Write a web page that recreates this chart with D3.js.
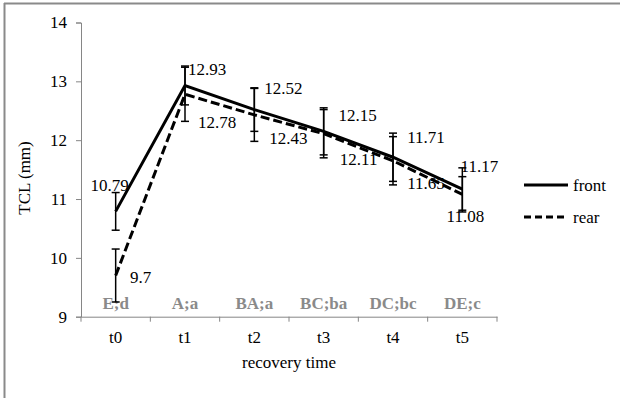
<!DOCTYPE html>
<html>
<head>
<meta charset="utf-8">
<script src="https://cdn.jsdelivr.net/npm/d3@7/dist/d3.min.js"></script>
<style>
  body { margin: 0; background: #fff; }
</style>
</head>
<body>
<svg id="chart" width="620" height="398"></svg>
<script>
// data
var times = ["t0", "t1", "t2", "t3", "t4", "t5"];
var groupLetters = ["E;d", "A;a", "BA;a", "BC;ba", "DC;bc", "DE;c"];
var front = [10.79, 12.93, 12.52, 12.15, 11.71, 11.17];
var frontErr = [0.32, 0.33, 0.37, 0.40, 0.41, 0.36];
var rear = [9.7, 12.78, 12.43, 12.11, 11.65, 11.08];
var rearErr = [0.45, 0.46, 0.45, 0.41, 0.41, 0.30];
var yTicks = [9, 10, 11, 12, 13, 14];

// label placement (dx, dy from the point)
var frontLabelShift = [[-6, -26], [22, -16], [29, -22], [34, -16], [33, -20], [17, -23]];
var rearLabelShift = [[25, 2], [32, 28], [34, 23], [35, 25], [33, 22], [3, 22]];

var FONT = "'Liberation Serif', 'Times New Roman', serif";
var svg = d3.select("#chart");

// frame (only top and left edges visible in the crop)
svg.append("line").attr("x1", 4).attr("x2", 620).attr("y1", 3.5).attr("y2", 3.5)
    .attr("stroke", "#8a8a8a").attr("stroke-width", 2);
svg.append("line").attr("x1", 4.5).attr("x2", 4.5).attr("y1", 3).attr("y2", 398)
    .attr("stroke", "#8a8a8a").attr("stroke-width", 2);

var x = d3.scaleBand().domain(times).range([81, 497]);
var y = d3.scaleLinear().domain([9, 14]).range([316.7, 22.5]);
var cx = function(t) { return x(t) + x.bandwidth() / 2; };

// axes
var yAxis = svg.append("g")
    .attr("transform", "translate(81,0)")
    .call(d3.axisLeft(y).tickValues(yTicks).tickSize(5).tickPadding(9).tickFormat(d3.format("d")));
var xAxis = svg.append("g")
    .attr("transform", "translate(0,316.7)")
    .call(d3.axisBottom(x).tickSize(0).tickPadding(14));
// category ticks at the band edges
xAxis.selectAll(".edge")
    .data(times.concat(["end"]))
    .enter().append("line")
    .attr("class", "edge")
    .attr("x1", function(d, i) { return 81 + i * x.bandwidth(); })
    .attr("x2", function(d, i) { return 81 + i * x.bandwidth(); })
    .attr("y1", 0).attr("y2", 5);

svg.selectAll(".domain, .tick line, .edge").attr("stroke", "#868686").attr("stroke-width", 1);
svg.selectAll(".tick text").attr("fill", "#000");

// axis titles
svg.append("text").attr("x", 289).attr("y", 368).attr("text-anchor", "middle")
    .text("recovery time");
svg.append("text").attr("transform", "translate(30,178) rotate(-90)").attr("text-anchor", "middle")
    .text("TCL (mm)");

// group letters
svg.selectAll(".grp").data(groupLetters).enter().append("text")
    .attr("class", "grp")
    .attr("x", function(d, i) { return cx(times[i]); })
    .attr("y", 309)
    .attr("text-anchor", "middle")
    .attr("fill", "#8a8a8a")
    .style("font-weight", "bold")
    .text(function(d) { return d; });

// error bars
function errorBars(vals, errs, cls) {
    var g = svg.append("g").attr("class", cls);
    var bars = g.selectAll("g").data(vals).enter().append("g");
    bars.append("line")
        .attr("x1", function(d, i) { return cx(times[i]); })
        .attr("x2", function(d, i) { return cx(times[i]); })
        .attr("y1", function(d, i) { return y(d - errs[i]); })
        .attr("y2", function(d, i) { return y(d + errs[i]); });
    [-1, 1].forEach(function(s) {
        bars.append("line")
            .attr("x1", function(d, i) { return cx(times[i]) - 4; })
            .attr("x2", function(d, i) { return cx(times[i]) + 4; })
            .attr("y1", function(d, i) { return y(d + s * errs[i]); })
            .attr("y2", function(d, i) { return y(d + s * errs[i]); });
    });
    g.selectAll("line").attr("stroke", "#000").attr("stroke-width", 1.5);
}
errorBars(front, frontErr, "err-front");
errorBars(rear, rearErr, "err-rear");

// lines
var line = d3.line()
    .x(function(d, i) { return cx(times[i]); })
    .y(function(d) { return y(d); });

svg.append("path").datum(rear).attr("d", line)
    .attr("fill", "none").attr("stroke", "#000").attr("stroke-width", 3)
    .attr("stroke-dasharray", "9,4");
svg.append("path").datum(front).attr("d", line)
    .attr("fill", "none").attr("stroke", "#000").attr("stroke-width", 3);

// data labels
function labels(vals, shift) {
    svg.append("g").selectAll("text").data(vals).enter().append("text")
        .attr("x", function(d, i) { return cx(times[i]) + shift[i][0]; })
        .attr("y", function(d, i) { return y(d) + shift[i][1]; })
        .attr("text-anchor", "middle")
        .attr("dy", "0.35em")
        .text(function(d) { return d; });
}
labels(front, frontLabelShift);
labels(rear, rearLabelShift);

// legend
var legend = svg.append("g").attr("transform", "translate(524,0)");
var items = [{name: "front", dash: null, y: 185}, {name: "rear", dash: "7,4", y: 217}];
items.forEach(function(it) {
    legend.append("line").attr("x1", 0).attr("x2", 44).attr("y1", it.y).attr("y2", it.y)
        .attr("stroke", "#000").attr("stroke-width", 3)
        .attr("stroke-dasharray", it.dash);
    legend.append("text").attr("x", 49).attr("y", it.y).attr("dy", "0.35em")
        .text(it.name);
});

// one serif face everywhere, as in the original
svg.selectAll("g").attr("font-family", null).attr("font-size", null);
svg.selectAll("text").attr("font-family", FONT).attr("font-size", 17);
</script>
</body>
</html>
